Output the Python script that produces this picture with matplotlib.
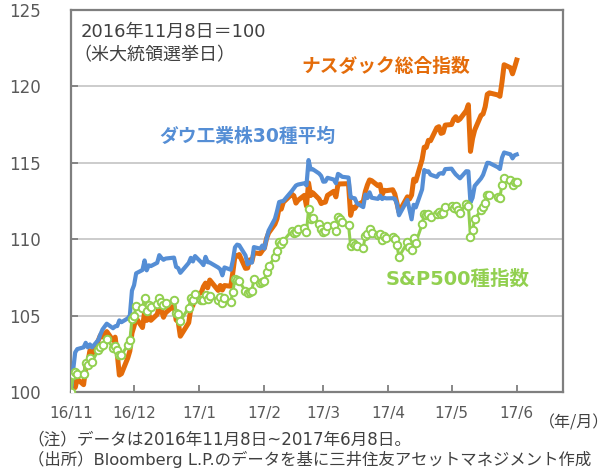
import datetime as dt
import matplotlib
matplotlib.use("Agg")
import matplotlib.pyplot as plt

plt.rcParams['font.family'] = ['Noto Sans CJK JP', 'DejaVu Sans']
mix = ['DejaVu Sans', 'Noto Sans CJK JP']

# 取引日（月ごと）
days_2016_11 = [8, 9, 10, 11, 14, 15, 16, 17, 18, 21, 22, 23, 25, 28, 29, 30]
days_2016_12 = [1, 2, 5, 6, 7, 8, 9, 12, 13, 14, 15, 16, 19, 20, 21, 22, 23, 27, 28, 29, 30]
days_2017_01 = [3, 4, 5, 6, 9, 10, 11, 12, 13, 17, 18, 19, 20, 23, 24, 25, 26, 27, 30, 31]
days_2017_02 = [1, 2, 3, 6, 7, 8, 9, 10, 13, 14, 15, 16, 17, 21, 22, 23, 24, 27, 28]
days_2017_03 = [1, 2, 3, 6, 7, 8, 9, 10, 13, 14, 15, 16, 17, 20, 21, 22, 23, 24, 27, 28, 29, 30, 31]
days_2017_04 = [3, 4, 5, 6, 7, 10, 11, 12, 13, 17, 18, 19, 20, 21, 24, 25, 26, 27, 28]
days_2017_05 = [1, 2, 3, 4, 5, 8, 9, 10, 11, 12, 15, 16, 17, 18, 19, 22, 23, 24, 25, 26, 30, 31]
days_2017_06 = [1, 2, 5, 6, 7, 8]

# 終値
dow = [18332.74, 18589.69, 18807.88, 18847.66, 18868.69, 18923.06, 18868.14, 18903.82, 18867.93, 18956.69,
       19023.87, 19083.18, 19152.14, 19097.90, 19121.60, 19123.58,
       19191.93, 19170.42, 19216.24, 19251.78, 19549.62, 19614.81, 19756.85, 19796.43, 19911.21, 19792.53,
       19852.24, 19843.41, 19883.06, 19974.62, 19941.96, 19918.88, 19933.81, 19945.04, 19833.68, 19819.78, 19762.60,
       19881.76, 19942.16, 19899.29, 19963.80, 19887.38, 19855.53, 19954.28, 19891.00, 19885.73, 19826.77,
       19804.72, 19732.40, 19827.25, 19799.85, 19912.71, 20068.51, 20100.91, 20093.78, 19971.13, 19864.09,
       19890.94, 19884.91, 20071.46, 20052.42, 20090.29, 20054.34, 20172.40, 20269.37, 20412.16, 20504.41,
       20611.86, 20619.77, 20624.05, 20743.00, 20775.60, 20810.32, 20821.76, 20837.44, 20812.24,
       21115.55, 21002.97, 21005.71, 20954.34, 20924.76, 20855.73, 20858.19, 20902.98, 20881.48, 20837.37,
       20950.10, 20934.55, 20914.62, 20905.86, 20668.01, 20661.30, 20656.58, 20596.72, 20550.98, 20701.50,
       20659.32, 20728.49, 20663.22,
       20650.21, 20689.24, 20648.15, 20662.95, 20656.10, 20658.02, 20651.30, 20591.86, 20453.25, 20636.92,
       20523.28, 20404.49, 20578.71, 20547.76, 20763.89, 20996.12, 20975.09, 20981.33, 20940.51,
       20913.46, 20949.89, 20957.90, 20951.47, 21006.94, 21012.42, 20975.78, 20943.11, 20919.42, 20896.61,
       20981.94, 20979.75, 20606.93, 20663.02, 20804.84, 20894.83, 20937.91, 21012.28, 21082.95, 21080.28,
       21029.47, 21008.65,
       21144.18, 21206.29, 21184.04, 21136.23, 21173.69, 21182.53]

nasdaq = [5193.49, 5251.07, 5208.80, 5237.11, 5218.40, 5275.62, 5294.58, 5333.97, 5321.51, 5368.86,
          5386.35, 5380.68, 5398.92, 5368.81, 5379.92, 5323.68,
          5251.11, 5255.65, 5308.89, 5333.00, 5393.76, 5417.36, 5444.50, 5412.54, 5463.83, 5436.67,
          5456.85, 5437.16, 5457.44, 5483.94, 5471.43, 5447.42, 5462.69, 5487.44, 5438.56, 5432.09, 5383.12,
          5429.08, 5477.00, 5487.94, 5521.06, 5531.82, 5551.82, 5563.65, 5547.49, 5574.12, 5538.73,
          5555.65, 5540.08, 5555.33, 5552.94, 5600.96, 5656.34, 5655.18, 5660.78, 5613.71, 5614.79,
          5642.65, 5636.20, 5666.77, 5663.55, 5674.22, 5682.45, 5715.18, 5734.13, 5763.96, 5782.57,
          5819.44, 5814.90, 5838.58, 5865.95, 5860.63, 5835.51, 5845.31, 5861.90, 5825.44,
          5904.03, 5861.22, 5870.75, 5849.18, 5833.93, 5837.55, 5838.81, 5861.73, 5875.78, 5856.82,
          5900.05, 5900.76, 5901.00, 5901.53, 5793.83, 5821.64, 5817.69, 5828.74, 5840.37, 5875.14,
          5897.55, 5914.34, 5911.74,
          5894.68, 5898.61, 5864.48, 5878.95, 5877.81, 5880.93, 5866.77, 5836.16, 5805.15, 5856.79,
          5849.47, 5863.03, 5916.78, 5910.52, 5983.82, 6025.49, 6025.23, 6048.94, 6047.61,
          6091.60, 6095.37, 6072.55, 6075.34, 6100.76, 6102.66, 6120.59, 6129.14, 6115.96, 6121.23,
          6149.67, 6169.87, 6011.24, 6055.13, 6083.70, 6133.62, 6138.71, 6163.02, 6205.26, 6210.19,
          6203.19, 6198.52,
          6246.83, 6305.80, 6295.68, 6275.06, 6297.38, 6321.76]

sp500 = [2139.56, 2163.26, 2167.48, 2164.45, 2164.20, 2180.39, 2176.94, 2187.12, 2181.90, 2198.18,
         2202.94, 2204.72, 2213.35, 2201.72, 2204.66, 2198.81,
         2191.08, 2191.95, 2204.71, 2212.23, 2241.35, 2246.19, 2259.53, 2256.96, 2271.72, 2253.28,
         2262.03, 2258.07, 2262.53, 2270.76, 2265.18, 2260.96, 2263.79, 2268.88, 2249.92, 2249.26, 2238.83,
         2257.83, 2270.75, 2269.00, 2276.98, 2268.90, 2268.90, 2275.32, 2270.44, 2274.64, 2267.89,
         2271.89, 2263.69, 2271.31, 2265.20, 2280.07, 2298.37, 2296.68, 2294.69, 2280.90, 2278.87,
         2279.55, 2280.85, 2297.42, 2292.56, 2293.08, 2294.67, 2307.87, 2316.10, 2328.25, 2337.58,
         2349.25, 2347.22, 2351.16, 2365.38, 2362.82, 2363.81, 2367.34, 2369.75, 2363.64,
         2395.96, 2381.92, 2383.12, 2375.31, 2368.39, 2362.98, 2364.87, 2372.60, 2373.47, 2365.45,
         2385.26, 2381.38, 2378.25, 2373.47, 2344.02, 2348.45, 2345.96, 2343.98, 2341.59, 2358.57,
         2361.13, 2368.06, 2362.72,
         2358.84, 2360.16, 2352.95, 2357.49, 2355.54, 2357.16, 2353.78, 2344.93, 2328.95, 2349.01,
         2342.19, 2338.17, 2355.84, 2348.69, 2374.15, 2388.61, 2387.45, 2388.77, 2384.20,
         2388.33, 2391.17, 2388.13, 2389.52, 2399.29, 2399.38, 2396.92, 2399.63, 2394.44, 2390.90,
         2402.32, 2400.67, 2357.03, 2365.72, 2381.73, 2394.02, 2398.42, 2404.39, 2415.07, 2415.82,
         2412.91, 2411.80,
         2430.06, 2439.07, 2436.10, 2429.33, 2433.14, 2433.79]

tick_labels = ["16/11", "16/12", "17/1", "17/2", "17/3", "17/4", "17/5", "17/6"]

# 日付
months = [(2016, 11, days_2016_11), (2016, 12, days_2016_12), (2017, 1, days_2017_01),
          (2017, 2, days_2017_02), (2017, 3, days_2017_03), (2017, 4, days_2017_04),
          (2017, 5, days_2017_05), (2017, 6, days_2017_06)]
dates = [dt.date(y, m, d) for y, m, days in months for d in days]

# 2016年11月8日=100
def to_index(vals):
    return [v / vals[0] * 100 for v in vals]

orange = '#E46C0A'
blue = '#558ED5'
green = '#92D050'
grey_txt = '#404040'
tick_col = '#595959'

fig = plt.figure(figsize=(6.13, 4.68), dpi=100)
ax = fig.add_axes([0.1158, 0.1624, 0.8026, 0.8162])

ax.plot(dates, to_index(nasdaq), color=orange, lw=3.6, zorder=3, solid_joinstyle='round')
ax.plot(dates, to_index(dow), color=blue, lw=3.0, zorder=4, solid_joinstyle='round')
ax.plot(dates, to_index(sp500), color=green, lw=2.2, marker='o', ms=5.4,
        mfc='white', mec=green, mew=1.4, zorder=5)

ax.set_ylim(100, 125)
ax.set_yticks([100, 105, 110, 115, 120, 125])
ax.set_xlim(dt.date(2016, 11, 8), dt.date(2017, 6, 30))
xt = [dt.date(2016, 11, 8)] + [dt.date(y, m, 8) for y, m in
                               [(2016, 12), (2017, 1), (2017, 2), (2017, 3), (2017, 4), (2017, 5), (2017, 6)]]
ax.set_xticks(xt)
ax.set_xticklabels(tick_labels, family='DejaVu Sans')
for lab in ax.get_yticklabels():
    lab.set_family('DejaVu Sans')

ax.grid(axis='y', color='#C8C8C8', lw=1.3, zorder=0)
for s in ax.spines.values():
    s.set_color('#7F7F7F')
    s.set_linewidth(1.6)
ax.tick_params(axis='y', direction='in', length=5, width=1.3, color='#7F7F7F',
               labelsize=12, labelcolor=tick_col, pad=22)
ax.tick_params(axis='x', direction='in', length=5, width=1.3, color='#7F7F7F',
               labelsize=11, labelcolor=tick_col, pad=10)

ax.text(0.02, 0.942, "2016年11月8日＝100", transform=ax.transAxes, fontsize=13,
        color=grey_txt, va='center', family=mix)
ax.text(0.004, 0.882, "（米大統領選挙日）", transform=ax.transAxes, fontsize=13,
        color=grey_txt, va='center', family=mix)
ax.text(0.468, 0.853, "ナスダック総合指数", transform=ax.transAxes, fontsize=13.5,
        color=orange, fontweight='bold', va='center', family=mix)
ax.text(0.18, 0.668, "ダウ工業株30種平均", transform=ax.transAxes, fontsize=13.5,
        color=blue, fontweight='bold', va='center', family=mix)
ax.text(0.64, 0.296, "S&P500種指数", transform=ax.transAxes, fontsize=14,
        color=green, fontweight='bold', va='center', family=mix)

fig.text(0.993, 0.096, "（年/月）", fontsize=11.5, color=grey_txt, va='center', ha='right')
fig.text(0.045, 0.062, "（注）データは2016年11月8日~2017年6月8日。", fontsize=12,
         color=grey_txt, va='center', family=mix)
fig.text(0.045, 0.019, "（出所）Bloomberg L.P.のデータを基に三井住友アセットマネジメント作成",
         fontsize=11.8, color=grey_txt, va='center', family=mix)

fig.savefig("out.png", dpi=100)
